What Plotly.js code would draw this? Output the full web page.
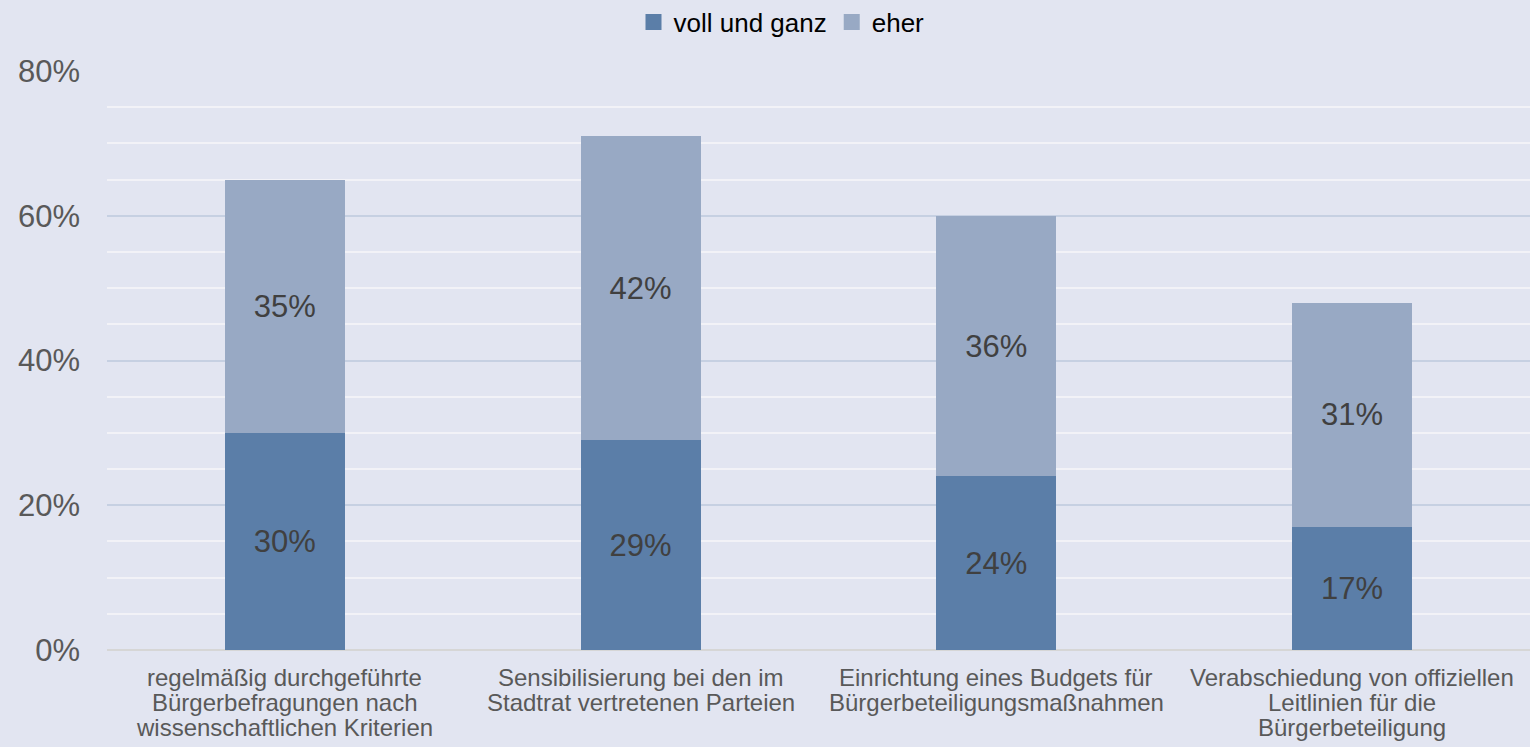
<!DOCTYPE html>
<html><head><meta charset="utf-8">
<script src="https://cdn.plot.ly/plotly-3.0.1.min.js"></script>
<style>html,body{margin:0;padding:0;background:#e2e5f1;}</style>
</head><body>
<div id="chart" style="width:1530px;height:747px;"></div>
<script>
const categories = [
  "regelmäßig durchgeführte Bürgerbefragungen nach wissenschaftlichen Kriterien",
  "Sensibilisierung bei den im Stadtrat vertretenen Parteien",
  "Einrichtung eines Budgets für Bürgerbeteiligungsmaßnahmen",
  "Verabschiedung von offiziellen Leitlinien für die Bürgerbeteiligung"
];
const categoryLines = [
  ["regelmäßig durchgeführte", "Bürgerbefragungen nach", "wissenschaftlichen Kriterien"],
  ["Sensibilisierung bei den im", "Stadtrat vertretenen Parteien"],
  ["Einrichtung eines Budgets für", "Bürgerbeteiligungsmaßnahmen"],
  ["Verabschiedung von offiziellen", "Leitlinien für die", "Bürgerbeteiligung"]
];
const vollUndGanz = [30, 29, 24, 17];
const eher = [35, 42, 36, 31];
const yTicks = [0, 20, 40, 60, 80];
const yTickText = ["0%", "20%", "40%", "60%", "80%"];

const font = "Liberation Sans, Arial, sans-serif";
const colVoll = "#5b7ea8", colEher = "#98a9c4";
const traces = [
  {type:"bar", name:"voll und ganz", x:categories, y:vollUndGanz, showlegend:false,
   marker:{color:colVoll}, texttemplate:"%{y}%", textposition:"inside",
   insidetextanchor:"middle", textfont:{family:font,size:31,color:"#404040"}, hoverinfo:"none"},
  {type:"bar", name:"eher", x:categories, y:eher, showlegend:false,
   marker:{color:colEher}, texttemplate:"%{y}%", textposition:"inside",
   insidetextanchor:"middle", textfont:{family:font,size:31,color:"#404040"}, hoverinfo:"none"},
  {type:"scatter", mode:"markers", name:"voll und ganz", x:[categories[0]], y:[null],
   marker:{symbol:"square", size:16, color:colVoll}, hoverinfo:"none"},
  {type:"scatter", mode:"markers", name:"eher", x:[categories[0]], y:[null],
   marker:{symbol:"square", size:16, color:colEher}, hoverinfo:"none"}
];
const annotations = [];
categoryLines.forEach((lines, ci) => {
  lines.forEach((ln, li) => {
    annotations.push({x:categories[ci], y:0, xref:"x", yref:"y", yanchor:"top", xanchor:"center",
      yshift:-12 - 25*li, text:ln, showarrow:false,
      font:{family:font, size:24, color:"#595959"}});
  });
});
const layout = {
  width:1530, height:747,
  paper_bgcolor:"#e2e5f1", plot_bgcolor:"#e2e5f1",
  barmode:"stack", bargap:0.663,
  margin:{l:107, r:0, t:71, b:97},
  font:{family:font, color:"#595959"},
  showlegend:true,
  legend:{orientation:"h", x:0.474, xanchor:"center", y:0.9705, yref:"container", yanchor:"middle",
    font:{family:font, size:26, color:"#000000"}, itemwidth:30, traceorder:"normal",
    bgcolor:"rgba(0,0,0,0)"},
  annotations: annotations,
  xaxis:{type:"category", showticklabels:false, showgrid:false,
    ticks:"", showline:false, zeroline:false},
  yaxis:{range:[0,80], tickmode:"array", tickvals:yTicks, ticktext:yTickText,
    tickfont:{family:font, size:31, color:"#595959"},
    showgrid:true, gridcolor:"#c6d0e2", gridwidth:2, ticks:"", ticklabelstandoff:26,
    zeroline:true, zerolinecolor:"#d6d6d6", zerolinewidth:2, showline:false,
    minor:{dtick:5, tick0:0, showgrid:true, gridcolor:"#f2f2f7", gridwidth:2}}
};
Plotly.newPlot("chart", traces, layout, {displayModeBar:false, staticPlot:true});
</script>
</body></html>
